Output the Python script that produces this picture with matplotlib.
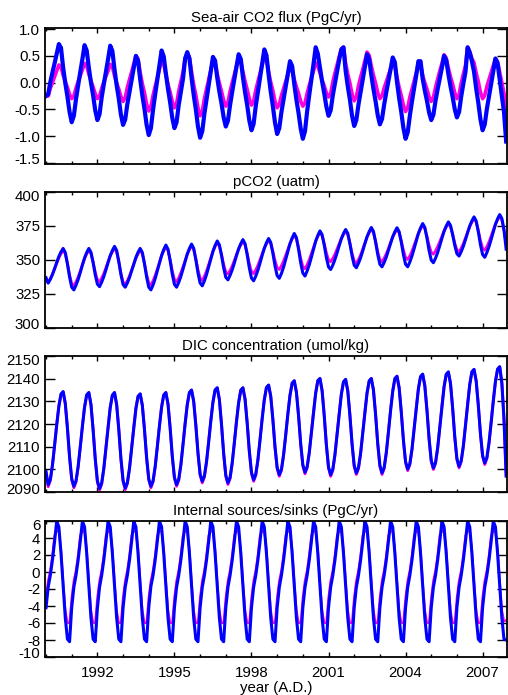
import matplotlib.pyplot as plt
import numpy as np
from matplotlib.ticker import FixedLocator, MultipleLocator
from matplotlib.transforms import ScaledTranslation

plt.rcParams['font.family'] = ['Liberation Sans', 'DejaVu Sans']
plt.rcParams['axes.unicode_minus'] = False

# monthly time axis, Jan 1990 .. Dec 2007
months = 1990 + np.arange(18 * 12) / 12.0
year_ticks = [1992, 1995, 1998, 2001, 2004, 2007]

# Sea-air CO2 flux (PgC/yr), one row per year, Jan..Dec
flux_blue = [
    [-0.25, -0.22, 0.01, 0.19, 0.36, 0.54, 0.72, 0.65, 0.28, -0.01, -0.26, -0.55],
    [-0.74, -0.62, -0.31, -0.05, 0.20, 0.44, 0.70, 0.60, 0.28, 0.00, -0.24, -0.52],
    [-0.70, -0.59, -0.28, -0.03, 0.20, 0.44, 0.69, 0.59, 0.25, -0.05, -0.30, -0.60],
    [-0.79, -0.69, -0.40, -0.17, 0.05, 0.27, 0.50, 0.41, 0.06, -0.24, -0.49, -0.79],
    [-0.98, -0.85, -0.51, -0.22, 0.05, 0.32, 0.60, 0.49, 0.17, -0.12, -0.37, -0.66],
    [-0.85, -0.74, -0.42, -0.17, 0.07, 0.45, 0.57, 0.45, 0.09, -0.23, -0.50, -0.82],
    [-1.03, -0.91, -0.58, -0.31, -0.05, 0.21, 0.48, 0.41, 0.09, -0.17, -0.39, -0.65],
    [-0.82, -0.71, -0.42, -0.17, 0.06, 0.29, 0.53, 0.44, 0.10, -0.18, -0.42, -0.71],
    [-0.89, -0.77, -0.44, -0.17, 0.09, 0.35, 0.62, 0.51, 0.15, -0.17, -0.44, -0.75],
    [-0.96, -0.85, -0.55, -0.31, -0.08, 0.16, 0.40, 0.31, -0.03, -0.32, -0.57, -0.86],
    [-1.05, -0.91, -0.54, -0.23, 0.06, 0.35, 0.66, 0.54, 0.28, 0.02, -0.20, -0.45],
    [-0.62, -0.52, -0.24, -0.01, 0.21, 0.43, 0.62, 0.66, 0.22, -0.07, -0.32, -0.62],
    [-0.81, -0.70, -0.41, -0.17, 0.06, 0.29, 0.53, 0.44, 0.14, -0.12, -0.35, -0.61],
    [-0.78, -0.68, -0.41, -0.18, 0.03, 0.25, 0.47, 0.38, 0.01, -0.29, -0.55, -0.85],
    [-1.05, -0.93, -0.62, -0.35, -0.11, 0.14, 0.40, 0.40, 0.07, -0.15, -0.34, -0.56],
    [-0.70, -0.60, -0.34, -0.12, 0.08, 0.28, 0.50, 0.42, 0.16, -0.07, -0.27, -0.50],
    [-0.65, -0.55, -0.26, -0.02, 0.20, 0.66, 0.56, 0.40, 0.20, -0.11, -0.38, -0.69],
    [-0.89, -0.78, -0.49, -0.25, -0.02, 0.21, 0.45, 0.36, 0.05, -0.25, -0.55, -1.10],
]
flux_pink = [
    [-0.22, -0.25, -0.11, 0.00, 0.11, 0.22, 0.33, 0.29, 0.14, 0.02, -0.09, -0.22],
    [-0.30, -0.25, -0.10, 0.02, 0.13, 0.24, 0.36, 0.31, 0.16, 0.03, -0.08, -0.21],
    [-0.30, -0.25, -0.11, 0.01, 0.12, 0.22, 0.34, 0.30, 0.13, -0.01, -0.12, -0.26],
    [-0.35, -0.28, -0.09, 0.06, 0.20, 0.35, 0.50, 0.44, 0.19, -0.02, -0.19, -0.40],
    [-0.53, -0.45, -0.24, -0.07, 0.09, 0.25, 0.42, 0.35, 0.15, -0.03, -0.18, -0.35],
    [-0.47, -0.39, -0.16, 0.02, 0.19, 0.45, 0.55, 0.47, 0.20, -0.04, -0.23, -0.47],
    [-0.62, -0.54, -0.30, -0.12, 0.06, 0.23, 0.42, 0.35, 0.16, -0.01, -0.16, -0.33],
    [-0.44, -0.37, -0.16, 0.00, 0.15, 0.31, 0.47, 0.40, 0.20, 0.03, -0.13, -0.30],
    [-0.42, -0.35, -0.14, 0.02, 0.17, 0.33, 0.49, 0.43, 0.20, 0.01, -0.15, -0.35],
    [-0.47, -0.41, -0.24, -0.11, 0.02, 0.15, 0.28, 0.23, 0.06, -0.08, -0.20, -0.35],
    [-0.44, -0.38, -0.20, -0.05, 0.09, 0.22, 0.37, 0.31, 0.18, 0.05, -0.06, -0.19],
    [-0.27, -0.20, 0.01, 0.18, 0.33, 0.49, 0.63, 0.66, 0.36, 0.16, -0.01, -0.21],
    [-0.34, -0.27, -0.06, 0.10, 0.25, 0.41, 0.57, 0.51, 0.31, 0.14, -0.01, -0.19],
    [-0.30, -0.25, -0.10, 0.02, 0.14, 0.25, 0.37, 0.32, 0.10, -0.09, -0.24, -0.42],
    [-0.54, -0.47, -0.27, -0.12, 0.03, 0.18, 0.34, 0.34, 0.13, 0.00, -0.12, -0.26],
    [-0.35, -0.28, -0.09, 0.07, 0.22, 0.36, 0.52, 0.46, 0.27, 0.11, -0.03, -0.19],
    [-0.30, -0.22, -0.01, 0.16, 0.32, 0.66, 0.58, 0.45, 0.37, 0.18, 0.02, -0.18],
    [-0.30, -0.24, -0.07, 0.06, 0.19, 0.32, 0.45, 0.39, 0.20, 0.00, -0.20, -0.45],
]

# pCO2 (uatm)
pco2_blue = [
    [337.0, 333.0, 335.8, 339.4, 343.7, 348.3, 352.6, 356.0, 358.5, 355.5, 347.2, 337.5],
    [330.0, 328.0, 331.4, 335.6, 340.8, 346.3, 351.5, 355.5, 358.5, 355.7, 348.1, 339.1],
    [332.3, 330.4, 333.7, 337.8, 342.8, 348.2, 353.2, 357.0, 360.0, 357.0, 348.9, 339.3],
    [332.0, 330.0, 333.1, 337.1, 342.0, 347.1, 351.9, 355.7, 358.5, 355.5, 347.2, 337.5],
    [330.0, 328.0, 331.6, 336.3, 341.9, 347.8, 353.4, 357.7, 361.0, 357.9, 349.5, 339.6],
    [332.1, 330.0, 333.5, 337.9, 343.3, 349.0, 354.4, 358.5, 361.7, 358.6, 350.3, 340.5],
    [333.1, 331.0, 334.6, 339.3, 344.9, 350.8, 356.4, 360.7, 364.0, 361.1, 353.4, 344.3],
    [337.3, 335.4, 338.7, 342.8, 347.8, 353.2, 358.2, 362.0, 365.0, 362.0, 353.8, 344.1],
    [336.7, 334.7, 338.1, 342.5, 347.8, 353.4, 358.6, 362.7, 365.8, 362.9, 355.0, 345.6],
    [338.5, 336.5, 340.1, 344.8, 350.4, 356.3, 361.9, 366.2, 369.5, 366.4, 357.9, 347.9],
    [340.4, 338.2, 341.9, 346.5, 352.1, 358.1, 363.8, 368.1, 371.4, 368.6, 360.9, 351.8],
    [344.9, 343.0, 346.2, 350.4, 355.3, 360.6, 365.6, 369.5, 372.4, 369.6, 362.0, 353.0],
    [346.2, 344.3, 347.6, 351.7, 356.7, 362.1, 367.1, 370.9, 373.9, 371.0, 363.2, 354.0],
    [346.9, 345.0, 348.2, 352.2, 357.1, 362.2, 367.1, 370.8, 373.7, 370.8, 363.1, 353.9],
    [346.9, 345.0, 348.5, 353.0, 358.4, 364.1, 369.5, 373.6, 376.8, 373.9, 366.1, 356.9],
    [349.9, 348.0, 351.3, 355.5, 360.6, 366.0, 371.1, 375.0, 378.0, 375.5, 368.7, 360.7],
    [354.6, 352.9, 356.1, 360.1, 365.0, 370.2, 375.1, 378.8, 381.7, 378.7, 370.7, 361.2],
    [354.0, 352.0, 355.5, 359.9, 365.2, 370.8, 376.2, 380.3, 383.4, 380.5, 372.0, 358.0],
]
pco2_pink = [
    [336.0, 333.5, 336.1, 339.4, 343.4, 347.6, 351.6, 354.7, 357.0, 354.4, 347.4, 339.1],
    [332.7, 331.0, 333.9, 337.5, 341.9, 346.6, 351.0, 354.4, 357.0, 354.7, 348.5, 341.1],
    [335.5, 334.0, 336.7, 340.1, 344.3, 348.7, 352.9, 356.1, 358.5, 355.9, 348.7, 340.2],
    [333.8, 332.0, 334.8, 338.3, 342.5, 347.0, 351.3, 354.5, 357.0, 354.5, 347.6, 339.5],
    [333.3, 331.6, 334.7, 338.6, 343.3, 348.3, 353.1, 356.7, 359.5, 357.0, 350.1, 341.9],
    [335.7, 334.0, 336.9, 340.6, 345.0, 349.7, 354.2, 357.6, 360.2, 357.7, 350.9, 342.8],
    [336.7, 335.0, 338.0, 341.9, 346.6, 351.5, 356.2, 359.8, 362.5, 360.2, 354.1, 346.8],
    [341.2, 339.7, 342.3, 345.7, 349.7, 354.0, 358.0, 361.1, 363.5, 361.2, 354.8, 347.3],
    [341.6, 340.0, 342.7, 346.1, 350.2, 354.6, 358.7, 361.9, 364.3, 362.2, 356.4, 349.6],
    [344.4, 343.0, 345.8, 349.3, 353.5, 358.0, 362.3, 365.5, 368.0, 365.6, 359.0, 351.2],
    [345.2, 343.6, 346.5, 350.2, 354.7, 359.4, 363.9, 367.4, 370.0, 367.9, 362.1, 355.3],
    [350.1, 348.7, 351.2, 354.3, 358.1, 362.1, 365.9, 368.8, 371.0, 368.7, 362.3, 354.9],
    [349.2, 347.6, 350.3, 353.8, 358.1, 362.5, 366.8, 370.0, 372.5, 370.1, 363.7, 356.1],
    [350.3, 348.7, 351.3, 354.6, 358.6, 362.9, 366.9, 369.9, 372.3, 370.1, 364.2, 357.2],
    [351.9, 350.4, 353.1, 356.6, 360.9, 365.3, 369.6, 372.8, 375.3, 373.2, 367.5, 360.8],
    [355.7, 354.3, 356.7, 359.9, 363.6, 367.6, 371.4, 374.3, 376.5, 374.5, 368.9, 362.4],
    [357.4, 356.0, 358.7, 362.1, 366.2, 370.5, 374.6, 377.8, 380.2, 377.9, 371.7, 364.3],
    [358.7, 357.2, 359.9, 363.4, 367.6, 372.1, 376.3, 379.5, 382.0, 379.5, 372.0, 362.0],
]

# DIC concentration (umol/kg)
dic_blue = [
    [2099.0, 2093.2, 2095.5, 2101.9, 2110.5, 2119.6, 2127.8, 2133.2, 2134.3, 2129.0, 2118.1, 2105.5],
    [2095.9, 2092.5, 2094.9, 2101.2, 2109.9, 2119.1, 2127.4, 2132.8, 2133.9, 2128.5, 2117.4, 2104.7],
    [2094.9, 2091.5, 2093.9, 2100.4, 2109.4, 2118.7, 2127.2, 2132.7, 2133.9, 2128.5, 2117.5, 2104.8],
    [2095.1, 2091.7, 2094.1, 2100.5, 2109.3, 2118.5, 2126.8, 2132.2, 2133.3, 2128.2, 2117.5, 2105.2],
    [2095.8, 2092.5, 2094.9, 2101.2, 2109.9, 2119.1, 2127.4, 2132.8, 2133.9, 2128.7, 2118.1, 2105.8],
    [2096.5, 2093.2, 2095.6, 2102.0, 2110.8, 2120.1, 2128.5, 2133.9, 2135.0, 2129.9, 2119.4, 2107.3],
    [2097.9, 2094.7, 2097.1, 2103.4, 2112.1, 2121.3, 2129.6, 2135.0, 2136.0, 2130.7, 2119.7, 2107.1],
    [2097.4, 2094.0, 2096.4, 2102.9, 2111.7, 2121.0, 2129.4, 2134.9, 2136.0, 2130.9, 2120.3, 2108.0],
    [2098.7, 2095.4, 2097.8, 2104.2, 2113.0, 2122.3, 2130.7, 2136.1, 2137.2, 2132.2, 2121.9, 2109.9],
    [2100.8, 2097.6, 2100.0, 2106.4, 2115.1, 2124.3, 2132.6, 2138.0, 2139.1, 2134.0, 2123.5, 2111.3],
    [2102.0, 2098.7, 2101.1, 2107.4, 2116.2, 2125.3, 2133.6, 2139.1, 2140.1, 2134.7, 2123.6, 2110.8],
    [2101.0, 2097.6, 2100.0, 2106.5, 2115.4, 2124.7, 2133.1, 2138.6, 2139.7, 2134.5, 2123.7, 2111.3],
    [2101.7, 2098.4, 2100.8, 2107.2, 2116.0, 2125.2, 2133.6, 2139.0, 2140.1, 2134.9, 2124.0, 2111.4],
    [2101.8, 2098.4, 2100.8, 2107.4, 2116.4, 2125.9, 2134.4, 2140.0, 2141.1, 2135.9, 2125.2, 2112.9],
    [2103.4, 2100.1, 2102.5, 2108.9, 2117.8, 2127.0, 2135.5, 2140.9, 2142.0, 2136.8, 2126.0, 2113.5],
    [2103.9, 2100.6, 2103.0, 2109.5, 2118.5, 2127.9, 2136.4, 2141.9, 2143.0, 2137.8, 2126.9, 2114.3],
    [2104.7, 2101.3, 2103.8, 2110.3, 2119.4, 2128.8, 2137.4, 2143.0, 2144.1, 2138.9, 2128.1, 2115.7],
    [2106.1, 2102.8, 2105.2, 2111.8, 2120.7, 2130.1, 2138.7, 2144.2, 2145.3, 2138.0, 2122.0, 2097.0],
]
dic_pink = [
    [2098.5, 2092.3, 2095.0, 2101.6, 2110.6, 2119.9, 2128.0, 2133.2, 2134.2, 2129.2, 2118.4, 2105.2],
    [2095.4, 2091.8, 2094.4, 2101.0, 2110.0, 2119.4, 2127.6, 2132.8, 2133.8, 2128.7, 2117.7, 2104.4],
    [2094.4, 2090.8, 2093.4, 2100.1, 2109.5, 2119.0, 2127.4, 2132.7, 2133.8, 2128.7, 2117.8, 2104.5],
    [2094.6, 2091.0, 2093.6, 2100.2, 2109.4, 2118.8, 2127.0, 2132.2, 2133.2, 2128.4, 2117.8, 2104.9],
    [2095.3, 2091.8, 2094.4, 2100.9, 2110.0, 2119.4, 2127.6, 2132.8, 2133.8, 2128.9, 2118.4, 2105.5],
    [2096.0, 2092.5, 2095.1, 2101.7, 2110.9, 2120.4, 2128.7, 2133.9, 2134.9, 2130.1, 2119.7, 2107.0],
    [2097.4, 2094.0, 2096.6, 2103.1, 2112.2, 2121.6, 2129.8, 2135.0, 2135.9, 2130.9, 2120.0, 2106.8],
    [2096.9, 2093.3, 2095.9, 2102.6, 2111.8, 2121.3, 2129.6, 2134.9, 2135.9, 2131.1, 2120.6, 2107.7],
    [2098.2, 2094.7, 2097.3, 2103.9, 2113.1, 2122.6, 2130.9, 2136.1, 2137.1, 2132.4, 2122.2, 2109.6],
    [2100.3, 2096.9, 2099.5, 2106.1, 2115.2, 2124.6, 2132.8, 2138.0, 2139.0, 2134.2, 2123.8, 2111.0],
    [2101.5, 2098.0, 2100.6, 2107.1, 2116.3, 2125.6, 2133.8, 2139.1, 2140.0, 2134.9, 2123.9, 2110.5],
    [2100.5, 2096.9, 2099.5, 2106.2, 2115.5, 2125.0, 2133.3, 2138.6, 2139.6, 2134.7, 2124.0, 2111.0],
    [2101.2, 2097.7, 2100.3, 2106.9, 2116.1, 2125.5, 2133.8, 2139.0, 2140.0, 2135.1, 2124.3, 2111.1],
    [2101.3, 2097.7, 2100.3, 2107.1, 2116.5, 2126.2, 2134.6, 2140.0, 2141.0, 2136.1, 2125.5, 2112.6],
    [2102.9, 2099.4, 2102.0, 2108.6, 2117.9, 2127.3, 2135.7, 2140.9, 2141.9, 2137.0, 2126.3, 2113.2],
    [2103.4, 2099.9, 2102.5, 2109.2, 2118.6, 2128.2, 2136.6, 2141.9, 2142.9, 2138.0, 2127.2, 2114.0],
    [2104.2, 2100.6, 2103.3, 2110.0, 2119.5, 2129.1, 2137.6, 2143.0, 2144.0, 2139.1, 2128.4, 2115.4],
    [2105.6, 2102.1, 2104.7, 2111.5, 2120.8, 2130.4, 2138.9, 2144.2, 2145.2, 2138.2, 2122.3, 2097.5],
]

# Internal sources/sinks (PgC/yr)
sink_blue = [
    [-4.2, -1.8, -0.4, 1.4, 3.6, 6.0, 5.3, 2.2, -1.6, -5.4, -7.9, -8.2],
    [-4.2, -1.8, -0.4, 1.4, 3.6, 6.0, 5.3, 2.2, -1.6, -5.4, -7.9, -8.2],
    [-4.3, -1.8, -0.4, 1.4, 3.6, 6.0, 5.3, 2.2, -1.6, -5.4, -7.9, -8.2],
    [-4.2, -1.8, -0.4, 1.4, 3.6, 6.0, 5.3, 2.2, -1.6, -5.4, -7.9, -8.2],
    [-4.2, -1.7, -0.4, 1.4, 3.6, 6.0, 5.3, 2.2, -1.6, -5.4, -7.9, -8.2],
    [-4.2, -1.8, -0.4, 1.4, 3.6, 6.0, 5.3, 2.2, -1.6, -5.4, -7.9, -8.2],
    [-4.2, -1.8, -0.4, 1.4, 3.6, 6.0, 5.3, 2.2, -1.6, -5.4, -7.9, -8.2],
    [-4.2, -1.8, -0.4, 1.4, 3.6, 6.0, 5.3, 2.2, -1.6, -5.4, -7.9, -8.2],
    [-4.2, -1.8, -0.4, 1.4, 3.6, 6.0, 5.3, 2.2, -1.6, -5.4, -7.9, -8.2],
    [-4.2, -1.8, -0.4, 1.4, 3.6, 6.0, 5.3, 2.2, -1.6, -5.4, -7.9, -8.2],
    [-4.2, -1.8, -0.4, 1.4, 3.6, 6.0, 5.3, 2.2, -1.6, -5.4, -7.9, -8.2],
    [-4.2, -1.8, -0.4, 1.4, 3.6, 6.0, 5.3, 2.2, -1.6, -5.4, -7.9, -8.2],
    [-4.2, -1.8, -0.4, 1.4, 3.6, 6.0, 5.3, 2.2, -1.6, -5.4, -7.9, -8.2],
    [-4.2, -1.8, -0.4, 1.4, 3.6, 6.0, 5.3, 2.2, -1.6, -5.4, -7.9, -8.2],
    [-4.2, -1.8, -0.4, 1.4, 3.6, 6.0, 5.3, 2.2, -1.6, -5.4, -7.9, -8.2],
    [-4.2, -1.8, -0.4, 1.4, 3.6, 6.0, 5.3, 2.2, -1.6, -5.4, -7.9, -8.2],
    [-4.2, -1.8, -0.4, 1.4, 3.6, 6.0, 5.3, 2.2, -1.6, -5.4, -7.9, -8.2],
    [-4.2, -1.8, -0.4, 1.4, 3.6, 6.0, 5.3, 2.2, -1.6, -5.4, -7.9, -8.0],
]
sink_pink = [
    [-3.0, -1.0, 0.2, 2.0, 4.3, 4.8, 4.8, 2.6, -1.2, -4.5, -6.0, -6.0],
    [-3.0, -1.0, 0.2, 2.0, 4.3, 4.8, 4.8, 2.6, -1.2, -4.5, -6.0, -6.0],
    [-3.0, -1.0, 0.2, 2.0, 4.3, 4.8, 4.8, 2.6, -1.2, -4.5, -6.0, -6.0],
    [-3.0, -1.0, 0.2, 2.0, 4.3, 4.8, 4.8, 2.6, -1.2, -4.5, -6.0, -6.0],
    [-3.0, -1.0, 0.2, 2.0, 4.3, 4.8, 4.8, 2.6, -1.2, -4.5, -6.0, -6.0],
    [-3.0, -1.0, 0.2, 2.0, 4.3, 4.8, 4.8, 2.6, -1.2, -4.5, -6.0, -6.0],
    [-3.0, -1.0, 0.2, 2.0, 4.3, 4.8, 4.8, 2.6, -1.2, -4.5, -6.0, -6.0],
    [-3.0, -1.0, 0.2, 2.0, 4.3, 4.8, 4.8, 2.6, -1.2, -4.5, -6.0, -6.0],
    [-3.0, -1.0, 0.2, 2.0, 4.3, 4.8, 4.8, 2.6, -1.2, -4.5, -6.0, -6.0],
    [-3.0, -1.0, 0.2, 2.0, 4.3, 4.8, 4.8, 2.6, -1.2, -4.5, -6.0, -6.0],
    [-3.0, -1.0, 0.2, 2.0, 4.3, 4.8, 4.8, 2.6, -1.2, -4.5, -6.0, -6.0],
    [-3.0, -1.0, 0.2, 2.0, 4.3, 4.8, 4.8, 2.6, -1.2, -4.5, -6.0, -6.0],
    [-3.0, -1.0, 0.2, 2.0, 4.3, 4.8, 4.8, 2.6, -1.2, -4.5, -6.0, -6.0],
    [-3.0, -1.0, 0.2, 2.0, 4.3, 4.8, 4.8, 2.6, -1.2, -4.5, -6.0, -6.0],
    [-3.0, -1.0, 0.2, 2.0, 4.3, 4.8, 4.8, 2.6, -1.2, -4.5, -6.0, -6.0],
    [-3.0, -1.0, 0.2, 2.0, 4.3, 4.8, 4.8, 2.6, -1.2, -4.5, -6.0, -6.0],
    [-3.0, -1.0, 0.2, 2.0, 4.3, 4.8, 4.8, 2.6, -1.2, -4.5, -6.0, -6.0],
    [-3.0, -1.0, 0.2, 2.0, 4.3, 4.8, 4.8, 2.6, -1.2, -4.5, -5.8, -5.7],
]

titles = ["Sea-air CO2 flux (PgC/yr)", "pCO2 (uatm)",
          "DIC concentration (umol/kg)", "Internal sources/sinks (PgC/yr)"]
series = [(flux_pink, flux_blue), (pco2_pink, pco2_blue),
          (dic_pink, dic_blue), (sink_pink, sink_blue)]
ylims = [(-1.52, 1.02), (300, 400), (2090, 2150), (-10, 6)]
yticks = [[-1.5, -1.0, -0.5, 0.0, 0.5, 1.0], [300, 325, 350, 375, 400],
          [2090, 2100, 2110, 2120, 2130, 2140, 2150], list(range(-10, 7, 2))]
yfmt = ["%.1f", "%d", "%d", "%d"]
pink_lw = [2.6, 2.0, 2.0, 1.6]
blue_lw = [3.0, 2.2, 2.2, 2.2]

PINK = '#ff00dd'
BLUE = '#0000ff'
FS = 10.8

W, H = 508, 695
fig = plt.figure(figsize=(W / 100, H / 100), dpi=100)
tops = [28, 192, 356, 521]
for i in range(4):
    ax = fig.add_axes([45 / W, 1 - (tops[i] + 136) / H, 462 / W, 136 / H])
    pink, blue = series[i]
    ax.plot(months, np.ravel(pink), color=PINK, lw=pink_lw[i])
    ax.plot(months, np.ravel(blue), color=BLUE, lw=blue_lw[i])

    ax.set_xlim(1989.96, 2007.95)
    ax.set_ylim(*ylims[i])
    ax.xaxis.set_major_locator(FixedLocator(year_ticks))
    ax.xaxis.set_minor_locator(MultipleLocator(1))
    ax.yaxis.set_major_locator(FixedLocator(yticks[i]))
    ax.set_yticklabels([yfmt[i] % v for v in yticks[i]])
    ax.tick_params(axis='x', which='major', direction='in', length=3.5, width=1,
                   top=True, bottom=True, labelsize=FS, pad=6.5)
    ax.tick_params(axis='x', which='minor', direction='in', length=2.2, width=1,
                   top=True, bottom=True)
    ax.tick_params(axis='y', direction='in', length=7, width=1, left=True,
                   right=True, labelsize=FS, pad=3.5)
    for s in ax.spines.values():
        s.set_linewidth(1.3)
    ax.set_title(titles[i], fontsize=FS, pad=4.5)

    # IDL keeps the end labels inside the axis
    yt = ax.yaxis.get_major_ticks()
    lab = yt[0].label1
    lab.set_transform(lab.get_transform() + ScaledTranslation(0, 4 / 100, fig.dpi_scale_trans))
    if i > 0:
        lab = yt[-1].label1
        lab.set_transform(lab.get_transform() + ScaledTranslation(0, -3.5 / 100, fig.dpi_scale_trans))

    if i < 3:
        ax.tick_params(axis='x', labelbottom=False)
    else:
        ax.set_xticklabels([str(y) for y in year_ticks])
        ax.set_xlabel("year (A.D.)", fontsize=FS, labelpad=0.5)

fig.savefig("out.png", dpi=100)
